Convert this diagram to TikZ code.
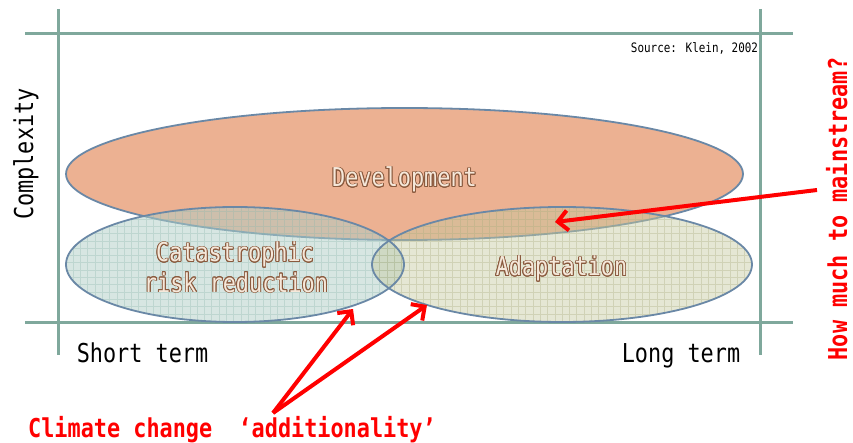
\documentclass[tikz,border=0pt]{standalone}
\usepackage{fontspec}
\usepackage[copies]{contour}
\usetikzlibrary{arrows.meta}
\newfontfamily\gothic[FakeStretch=0.84]{DejaVu Sans Mono}
\definecolor{axisgreen}{HTML}{7FA89C}
\definecolor{edgeblue}{HTML}{6A88A6}
\definecolor{devfill}{HTML}{ECB192}
\definecolor{crrfill}{HTML}{AFCEC6}
\definecolor{crrgrid}{HTML}{8FB8AE}
\definecolor{adaptfill}{HTML}{C6C99F}
\definecolor{adaptgrid}{HTML}{A9AD80}
\definecolor{labelbrown}{HTML}{8A5A3E}
\definecolor{labelcream}{HTML}{F5E8DA}
\contourlength{0.9pt}
\tikzset{
  axisline/.style={axisgreen, line width=3pt},
  blobline/.style={edgeblue, line width=1.8pt},
  gridline/.style={line width=0.6pt, step=7.3pt, draw opacity=0.35},
  redarrow/.style={red, line width=4pt, -{Straight Barb[length=10pt, width=20pt]}},
  bigtext/.style={inner sep=0pt, font=\gothic\fontsize{26}{30}\selectfont},
  blobtext/.style={bigtext, text=labelcream, anchor=base},
  redtext/.style={bigtext, text=red, font=\gothic\bfseries\fontsize{26}{30}\selectfont}
}
\begin{document}
\begin{tikzpicture}[x=1pt,y=-1pt]
\useasboundingbox (0,0) rectangle (853,443);
% frame
\draw[axisline] (58,9) -- (58,355);
\draw[axisline] (760,9) -- (760,355);
\draw[axisline] (25,34) -- (793,34);
\draw[axisline] (25,322) -- (793,322);
% development
\draw[blobline, fill=devfill] (404.5,174) ellipse [x radius=338.5, y radius=66];
% catastrophic risk reduction
\begin{scope}
\clip (235,264.5) ellipse [x radius=169, y radius=57.5];
\fill[crrfill, fill opacity=0.5] (60,200) rectangle (410,330);
\draw[crrgrid, gridline] (60,200) grid (410,330);
\end{scope}
% adaptation
\begin{scope}
\clip (562,264.5) ellipse [x radius=190, y radius=57.5];
\fill[adaptfill, fill opacity=0.45] (365,200) rectangle (760,330);
\draw[adaptgrid, gridline] (365,200) grid (760,330);
\end{scope}
\draw[blobline] (235,264.5) ellipse [x radius=169, y radius=57.5];
\draw[blobline] (562,264.5) ellipse [x radius=190, y radius=57.5];
% labels
\node[blobtext] (devlabel) at (404.5,187) {\contour{labelbrown}{Development}};
\node[blobtext] (crrtop) at (235,262) {\contour{labelbrown}{Catastrophic}};
\node[blobtext] (crrbottom) at (236,292) {\contour{labelbrown}{risk reduction}};
\node[blobtext] (adaptlabel) at (561.5,276) {\contour{labelbrown}{Adaptation}};
\node[bigtext, anchor=base] (shortterm) at (142.5,362) {Short term};
\node[bigtext, anchor=base] (longterm) at (681,362) {Long term};
\node[bigtext, rotate=90, anchor=base] (complexity) at (33,154) {Complexity};
\node[inner sep=0pt, font=\gothic\fontsize{13}{15}\selectfont, anchor=base] (source) at (694.5,53) {Source: Klein, 2002};
\node[redtext, anchor=base] (additionality) at (232,437) {Climate change\ \ ‘additionality’};
\node[redtext, rotate=90, anchor=base] (mainstream) at (847,209) {How much to mainstream?};
% arrows
\coordinate (mainstreamtail) at (817,190);
\coordinate (mainstreamtip) at (555,222);
\coordinate (addroot) at (273,413);
\coordinate (crrtip) at (353,309);
\coordinate (adapttip) at (427,305);
\draw[redarrow] (mainstreamtail) -- (mainstreamtip);
\draw[redarrow] (addroot) -- (crrtip);
\draw[redarrow] (addroot) -- (adapttip);
\end{tikzpicture}
\end{document}
